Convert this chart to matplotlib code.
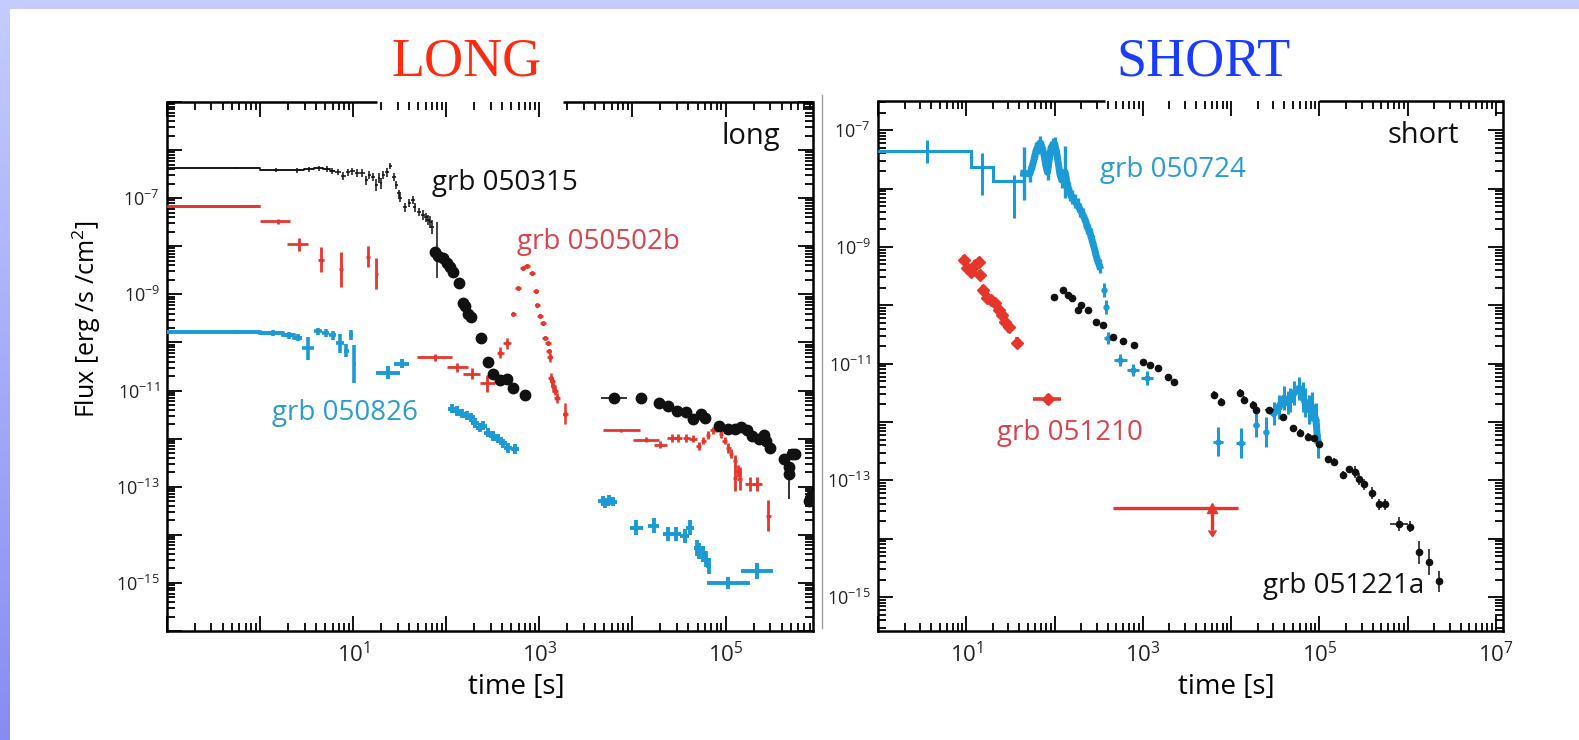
import numpy as np
import matplotlib
matplotlib.use('Agg')
import matplotlib.pyplot as plt
from matplotlib.ticker import LogLocator, FuncFormatter, NullFormatter
from matplotlib.lines import Line2D

plt.rcParams['font.family'] = ['Open Sans', 'DejaVu Sans']
plt.rcParams['mathtext.fontset'] = 'custom'
plt.rcParams['mathtext.rm'] = 'Open Sans'
plt.rcParams['mathtext.it'] = 'Open Sans:italic'
plt.rcParams['mathtext.bf'] = 'Open Sans:bold'

BLACK = '#111111'
RED = '#e8352b'
BLUE = '#1b9ad6'
RED_TXT = '#d9434b'
BLUE_TXT = '#2b9cce'

# all light-curve values are log10(time [s]) and log10(flux [erg/s/cm^2])
# error sizes are in dex

# ---- long bursts ----
# GRB 050315, BAT bins (edges) and XRT
b315_edges = [-1.0, 0.0, 0.30, 0.47, 0.58, 0.68, 0.75, 0.80, 0.865, 0.92, 0.965, 1.015,
              1.07, 1.125, 1.16, 1.19, 1.23, 1.265, 1.29, 1.31, 1.34, 1.38, 1.42]
b315_lf = [-6.38, -6.42, -6.42, -6.40, -6.38, -6.40, -6.44, -6.46, -6.54, -6.46, -6.44,
           -6.48, -6.48, -6.63, -6.52, -6.56, -6.73, -6.58, -6.69, -6.52, -6.46, -6.33]
b315_ey = [0.02, 0.04, 0.05, 0.05, 0.05, 0.06, 0.06, 0.06, 0.08, 0.07, 0.07, 0.08, 0.08,
           0.10, 0.08, 0.09, 0.12, 0.10, 0.12, 0.09, 0.09, 0.06]
d315_lt = [1.44, 1.465, 1.49, 1.50, 1.56, 1.605, 1.64, 1.66, 1.71, 1.75, 1.78, 1.80, 1.83,
           1.85, 1.90]
d315_lf = [-6.56, -6.73, -6.90, -7.00, -7.19, -7.10, -7.04, -7.19, -7.29, -7.35, -7.40,
           -7.46, -7.50, -7.60, -8.08]
d315_ey = [0.08, 0.08, 0.08, 0.08, 0.09, 0.08, 0.08, 0.09, 0.09, 0.10, 0.10, 0.10, 0.12,
           0.14, 0.58]
x315_lt = [1.875, 1.91, 1.96, 2.005, 2.04, 2.07, 2.135, 2.18, 2.20, 2.23, 2.265, 2.37, 2.45,
           2.50, 2.58, 2.65, 2.72, 2.85, 3.80, 4.09, 4.28, 4.38, 4.48, 4.57, 4.65, 4.74,
           4.78, 4.935, 5.03, 5.10, 5.17, 5.23, 5.28, 5.36, 5.41, 5.44, 5.48, 5.63, 5.68,
           5.71, 5.75, 5.68, 5.90, 5.92]
x315_lf = [-8.125, -8.21, -8.25, -8.35, -8.44, -8.54, -8.77, -9.17, -9.25, -9.40, -9.48,
           -9.90, -10.40, -10.65, -10.79, -10.77, -10.94, -11.10, -11.15, -11.15, -11.25,
           -11.33, -11.42, -11.44, -11.60, -11.48, -11.58, -11.73, -11.79, -11.79, -11.75,
           -11.83, -11.94, -12.00, -11.92, -12.04, -12.19, -12.42, -12.58, -12.31, -12.31,
           -12.73, -13.29, -13.19]
x315_ex = [0.02] * 18 + [0.14] + [0.02] * 25
x315_ey = [0.05] * 36 + [0.1, 0.1, 0.1, 0.1, 0.1, 0.52, 0.12, 0.12]

# GRB 050502b
b502_lo = [-1.0, 0.0, 0.29, 0.62, 0.85, 1.14, 1.23]
b502_hi = [0.0, 0.32, 0.52, 0.69, 0.89, 1.18, 1.27]
b502_lf = [-7.17, -7.48, -7.96, -8.28, -8.48, -8.22, -8.57]
b502_ey = [0.02, 0.05, 0.14, 0.26, 0.36, 0.22, 0.32]
e502_lt = [1.875, 2.12, 2.275, 2.44]
e502_lf = [-10.31, -10.52, -10.65, -10.85]
e502_ex = [0.19, 0.115, 0.09, 0.08]
e502_ey = [0.07, 0.10, 0.12, 0.17]
f502_lt = [2.58, 2.65, 2.72, 2.77, 2.82, 2.87, 2.92, 2.96, 2.98, 3.01, 3.04, 3.06, 3.09,
           3.10, 3.11, 3.12, 3.14, 3.15, 3.17, 3.19, 3.28]
f502_lf = [-10.21, -10.02, -9.40, -8.875, -8.46, -8.40, -8.56, -8.94, -9.23, -9.44, -9.60,
           -9.90, -10.02, -10.17, -10.31, -10.73, -10.81, -10.90, -11.00, -11.15, -11.48]
f502_ex = [0.04, 0.04] + [0.03] * 19
f502_ey = [0.12, 0.12] + [0.03] * 12 + [0.10] * 6 + [0.22]
l502_lt = [3.88, 4.15, 4.30, 4.42, 4.49, 4.58, 4.65, 4.71, 4.76, 4.81, 4.86, 4.90, 4.95,
           4.99, 5.03, 5.06, 5.10, 5.13, 5.10, 5.15, 5.26, 5.34, 5.46]
l502_lf = [-11.83, -12.02, -12.125, -11.98, -11.98, -11.98, -12.0, -12.15, -12.04, -11.92,
           -11.83, -11.79, -11.90, -12.04, -12.19, -12.31, -12.46, -12.67, -12.81, -12.83,
           -12.94, -12.94, -13.60]
l502_ex = [0.20, 0.14, 0.07, 0.05, 0.04, 0.04, 0.04] + [0.025] * 13 + [0.05, 0.05, 0.03]
l502_ey = [0.04, 0.06, 0.07] + [0.08] * 11 + [0.10, 0.10, 0.12, 0.12, 0.27, 0.23, 0.14,
                                              0.14, 0.32]

# GRB 050826
b826_edges = [-1.0, 0.0, 0.25, 0.36, 0.45, 0.58, 0.665, 0.745, 0.82, 0.90, 0.95, 0.995, 1.03]
b826_lf = [-9.79, -9.81, -9.85, -9.90, -10.125, -9.77, -9.81, -9.85, -10.02, -10.17, -9.85,
           -10.45]
b826_ey = [0.04, 0.06, 0.07, 0.07, 0.23, 0.08, 0.08, 0.09, 0.20, 0.14, 0.10, 0.40]
x826_lt = [1.37, 1.52, 2.06, 2.11, 2.17, 2.22, 2.265, 2.31, 2.36, 2.39, 2.45, 2.50, 2.56,
           2.61, 2.665, 2.74]
x826_lf = [-10.625, -10.44, -11.375, -11.42, -11.48, -11.52, -11.56, -11.67, -11.77,
           -11.73, -11.875, -11.94, -12.0, -12.10, -12.19, -12.21]
x826_ex = [0.13, 0.08] + [0.045] * 14
x826_ey = [0.14, 0.10] + [0.10] * 14
l826_lt = [3.68, 3.71, 3.745, 3.79, 4.04, 4.23, 4.38, 4.47, 4.56, 4.62, 4.69, 4.72, 4.76,
           4.79, 4.82, 5.03, 5.34]
l826_lf = [-13.29, -13.35, -13.27, -13.31, -13.85, -13.81, -13.98, -13.98, -14.02, -13.85,
           -14.27, -14.33, -14.40, -14.50, -14.65, -15.0, -14.75]
l826_ex = [0.045] * 4 + [0.07, 0.06, 0.05, 0.05, 0.05, 0.04] + [0.025] * 5 + [0.23, 0.17]
l826_ey = [0.10] * 4 + [0.15] * 6 + [0.17] * 5 + [0.12, 0.17]

# ---- short bursts ----
# GRB 050724
b724_lt = [0.55, 1.18, 1.54]
b724_lf = [-7.36, -7.63, -7.87]
b724_ex = [[0.55, 0.13, 0.24], [0.50, 0.13, 0.10]]
b724_ey = [[0.20, 0.48, 0.64], [0.19, 0.24, 0.10]]
c724_lt = [1.65, 1.72, 1.76, 1.79, 1.81, 1.84, 1.86, 1.88, 1.90, 1.92, 1.94, 1.96, 1.98,
           2.00, 2.02, 2.04, 2.06, 2.08, 2.10, 2.12, 2.14, 2.16, 2.18, 2.20, 2.23, 2.26,
           2.29, 2.32, 2.35, 2.37, 2.39, 2.41, 2.43, 2.45, 2.47, 2.49, 2.51]
c724_lf = [-7.74, -7.75, -7.55, -7.35, -7.28, -7.22, -7.30, -7.42, -7.60, -7.72, -7.50,
           -7.30, -7.25, -7.24, -7.35, -7.55, -7.75, -7.85, -7.80, -7.72, -7.90, -8.02,
           -8.10, -8.15, -8.22, -8.28, -8.36, -8.45, -8.55, -8.66, -8.72, -8.80, -8.92,
           -9.02, -9.15, -9.25, -9.33]
c724_ey = [0.45, 0.14, 0.14, 0.14, 0.12, 0.12, 0.12, 0.14, 0.14, 0.14, 0.14, 0.12, 0.12,
           0.12, 0.14, 0.14, 0.14, 0.14, 0.14, 0.45, 0.14, 0.14, 0.12, 0.12, 0.12, 0.12,
           0.12, 0.12, 0.12, 0.12, 0.12, 0.12, 0.12, 0.12, 0.12, 0.12, 0.12]
p724_lt = [2.56, 2.58, 2.61, 2.745, 2.89, 3.05]
p724_lf = [-9.74, -10.03, -10.56, -10.94, -11.11, -11.25]
p724_ex = [0.01, 0.01, 0.05, 0.07, 0.07, 0.07]
p724_ey = [0.12, 0.12, 0.10, 0.10, 0.10, 0.12]
l724_lt = [3.85, 4.11, 4.28, 4.39, 4.48, 4.54, 4.60, 4.64, 4.67, 4.71, 4.77, 4.81, 4.84,
           4.88, 4.92, 4.96, 4.98]
l724_lf = [-12.34, -12.36, -12.05, -12.17, -11.85, -11.74, -11.59, -11.67, -11.62, -11.50,
           -11.42, -11.57, -11.67, -11.79, -11.74, -11.97, -12.31]
l724_ex = [0.06, 0.05, 0.03, 0.03] + [0.015] * 13
l724_ey = [0.25, 0.25, 0.20, 0.25] + [0.20] * 7 + [0.25] * 4 + [0.30, 0.30]

# GRB 051210
r210_lt = [0.97, 1.01, 1.05, 1.10, 1.14, 1.16, 1.19, 1.24, 1.28, 1.33, 1.375, 1.41, 1.44,
           1.48, 1.58, 1.93]
r210_lf = [-9.22, -9.36, -9.43, -9.31, -9.26, -9.48, -9.74, -9.87, -9.91, -9.96, -10.08,
           -10.16, -10.28, -10.38, -10.64, -11.61]
r210_ex = [[0.04] * 15 + [0.17], [0.04] * 15 + [0.14]]
r210_ey = [0.09] * 16
u210_lt = [3.78]
u210_lf = [-13.47]
u210_ex = [[1.12], [0.30]]

# GRB 051221a
k221_lt = [1.99, 2.09, 2.15, 2.20, 2.26, 2.30, 2.375, 2.47, 2.55, 2.66, 2.78, 2.90, 3.00,
           3.08, 3.17, 3.28, 3.35, 3.81, 3.89, 4.10, 4.14, 4.25, 4.28, 4.43, 4.59, 4.70,
           4.78, 4.875, 4.94, 4.99, 5.10, 5.17, 5.27, 5.33, 5.40, 5.45, 5.51, 5.59, 5.67,
           5.74, 5.90, 6.03, 6.125, 6.24, 6.35]
k221_lf = [-9.85, -9.74, -9.82, -9.87, -10.08, -9.99, -10.08, -10.28, -10.33, -10.54,
           -10.62, -10.68, -10.98, -11.03, -11.07, -11.22, -11.32, -11.53, -11.65, -11.50,
           -11.62, -11.70, -11.79, -11.80, -11.92, -12.11, -12.18, -12.25, -12.28, -12.38,
           -12.64, -12.68, -12.90, -12.81, -12.86, -12.98, -13.07, -13.21, -13.41, -13.41,
           -13.74, -13.79, -14.23, -14.40, -14.73]
k221_ex = [0.02] * 23 + [0.05] + [0.02] * 16 + [0.10, 0.04, 0.02, 0.02, 0.02]
k221_ey = [0.04] * 17 + [0.06] * 17 + [0.10] * 6 + [0.12, 0.10, 0.20, 0.22, 0.18]


def points(ax, lt, lf, ex, ey, color, marker='none', ms=0, lw=1.5, z=3, **kw):
    lt = np.asarray(lt, float)
    lf = np.asarray(lf, float)
    ex = np.broadcast_to(np.asarray(ex, float), (2, lt.size))
    ey = np.broadcast_to(np.asarray(ey, float), (2, lt.size))
    t, f = 10 ** lt, 10 ** lf
    xerr = [t - 10 ** (lt - ex[0]), 10 ** (lt + ex[1]) - t]
    yerr = [f - 10 ** (lf - ey[0]), 10 ** (lf + ey[1]) - f]
    ax.errorbar(t, f, xerr=xerr, yerr=yerr, fmt=marker, ms=ms, color=color, mec=color,
                mfc=color, ecolor=color, elinewidth=lw, capsize=0, linestyle='none',
                zorder=z, **kw)


def binned(ax, lo, hi, lf, ey, color, lw=1.5, nstairs=0):
    lo, hi = 10 ** np.asarray(lo, float), 10 ** np.asarray(hi, float)
    t = 0.5 * (lo + hi)
    f = 10 ** np.asarray(lf, float)
    ey = np.asarray(ey, float)
    ax.errorbar(t, f, xerr=[t - lo, hi - t], yerr=[f - f * 10 ** -ey, f * 10 ** ey - f],
                fmt='none', ecolor=color, elinewidth=lw, capsize=0, zorder=3)
    if nstairs:
        ax.stairs(f[:nstairs], np.r_[lo[:nstairs], hi[nstairs - 1]], color=color,
                  lw=lw, baseline=None, zorder=3)


def decade_label(keep):
    def fmt(v, pos):
        e = int(round(np.log10(v)))
        return r'$\mathregular{10^{%d}}$' % e if e in keep else ''
    return FuncFormatter(fmt)


def style_axes(ax, xlim, ylim, xkeep, gaps):
    ax.set_xscale('log')
    ax.set_yscale('log')
    ax.set_xlim(*xlim)
    ax.set_ylim(*ylim)
    for a in (ax.xaxis, ax.yaxis):
        a.set_major_locator(LogLocator(base=10, numticks=40))
        a.set_minor_locator(LogLocator(base=10, subs=np.arange(2, 10), numticks=40))
        a.set_minor_formatter(NullFormatter())
    ax.xaxis.set_major_formatter(decade_label(xkeep))
    ax.yaxis.set_major_formatter(decade_label([-7, -9, -11, -13, -15]))
    ax.tick_params(which='both', direction='in', top=True, right=True, width=1.3,
                   color='black')
    ax.tick_params(which='major', length=11)
    ax.tick_params(which='minor', length=6)
    ax.tick_params(axis='x', which='major', labelsize=16, pad=8, labelcolor='#222222')
    ax.tick_params(axis='y', which='major', labelsize=13, pad=5, labelcolor='#222222')
    for s in ('left', 'right', 'bottom'):
        ax.spines[s].set_linewidth(1.8)
    ax.spines['top'].set_visible(False)
    for a, b in gaps:
        ax.plot([a, b], [1, 1], transform=ax.transAxes, color='black', lw=1.8,
                clip_on=False, solid_capstyle='butt', zorder=5)


fig = plt.figure(figsize=(15.79, 7.40), dpi=100)

# slide border
fig.add_artist(plt.Rectangle((0, 1 - 9 / 740), 1, 9 / 740, transform=fig.transFigure,
                             color='#c3cbff', lw=0, zorder=0))
band = fig.add_axes([0, 0, 10 / 1579, 1])
grad = np.linspace(0, 1, 256)[:, None, None]
top_c = np.array([0.77, 0.80, 1.0])
bot_c = np.array([0.53, 0.55, 0.95])
band.imshow(top_c * (1 - grad) + bot_c * grad, aspect='auto')
band.axis('off')
fig.add_artist(Line2D([822 / 1579] * 2, [1 - 628 / 740, 1 - 95 / 740], color='#a0a0a0',
                      lw=1.0))

fig.text(467 / 1579, 1 - 62 / 740, 'LONG', color='#ff2a10', family='Liberation Serif',
         fontsize=39, ha='center', va='center')
fig.text(1203 / 1579, 1 - 62 / 740, 'SHORT', color='#1a3cff', family='Liberation Serif',
         fontsize=39, ha='center', va='center')

# ---- left panel: long bursts ----
axl = fig.add_axes([167 / 1579, 109 / 740, 646 / 1579, 529 / 740])
style_axes(axl, (0.1, 8.7e5), (1e-16, 1e-5), [1, 3, 5], [(0, 0.325), (0.613, 1)])

binned(axl, b315_edges[:-1], b315_edges[1:], b315_lf, b315_ey, BLACK, lw=1.1, nstairs=7)
points(axl, d315_lt, d315_lf, 0.02, d315_ey, BLACK, lw=1.1)
points(axl, x315_lt, x315_lf, x315_ex, x315_ey, BLACK, marker='o', ms=7.5, lw=1.2)

binned(axl, b502_lo, b502_hi, b502_lf, b502_ey, RED, lw=2.0, nstairs=1)
points(axl, e502_lt, e502_lf, e502_ex, e502_ey, RED, lw=2.0)
points(axl, f502_lt, f502_lf, f502_ex, f502_ey, RED, marker='o', ms=2.5, lw=1.8)
points(axl, l502_lt, l502_lf, l502_ex, l502_ey, RED, lw=2.0)

binned(axl, b826_edges[:-1], b826_edges[1:], b826_lf, b826_ey, BLUE, lw=2.6, nstairs=4)
points(axl, x826_lt, x826_lf, x826_ex, x826_ey, BLUE, lw=2.8)
points(axl, l826_lt, l826_lf, l826_ex, l826_ey, BLUE, lw=2.8)

axl.text(10 ** 1.85, 10 ** -6.69, 'grb 050315', color=BLACK, fontsize=20, va='center')
axl.text(10 ** 2.76, 10 ** -7.91, 'grb 050502b', color=RED_TXT, fontsize=20, va='center')
axl.text(10 ** 0.13, 10 ** -11.47, 'grb 050826', color=BLUE_TXT, fontsize=20, va='center')
axl.text(0.949, 0.934, 'long', transform=axl.transAxes, color=BLACK, fontsize=21,
         ha='right', va='center')
axl.set_xlabel('time [s]', fontsize=20)
axl.xaxis.set_label_coords(0.54, -0.08)
axl.set_ylabel('Flux [erg /s /cm$^2$]', fontsize=18)
axl.yaxis.set_label_coords(-0.099, 0.59)

# ---- right panel: short bursts ----
axr = fig.add_axes([878 / 1579, 109 / 740, 625 / 1579, 530 / 740])
style_axes(axr, (1.0, 1.2e7), (10 ** -15.58, 10 ** -6.5), [1, 3, 5, 7],
           [(0, 0.363), (0.706, 1)])

b724_e = np.asarray(b724_ex)
b724_edges = np.r_[np.asarray(b724_lt) - b724_e[0], b724_lt[-1] + b724_e[1][-1]]
axr.stairs(10 ** np.asarray(b724_lf), 10 ** b724_edges, color=BLUE, lw=2.2,
           baseline=None, zorder=3)
points(axr, b724_lt, b724_lf, b724_ex, b724_ey, BLUE, lw=2.2)
axr.plot(10 ** np.asarray(c724_lt), 10 ** np.asarray(c724_lf), color=BLUE, lw=5, zorder=3)
points(axr, c724_lt, c724_lf, 0.015, c724_ey, BLUE, lw=2.4)
points(axr, p724_lt, p724_lf, p724_ex, p724_ey, BLUE, marker='o', ms=3.5, lw=2.2)
axr.plot(10 ** np.asarray(l724_lt[4:]), 10 ** np.asarray(l724_lf[4:]), color=BLUE, lw=5,
         zorder=3)
points(axr, l724_lt, l724_lf, l724_ex, l724_ey, BLUE, marker='o', ms=3.5, lw=2.2)

points(axr, r210_lt, r210_lf, r210_ex, r210_ey, RED, marker='D', ms=6.5, lw=2.6)
points(axr, u210_lt, u210_lf, u210_ex, [[0.38], [0.0]], RED, marker='^', ms=7, lw=2.4,
       uplims=True)

points(axr, k221_lt, k221_lf, k221_ex, k221_ey, BLACK, marker='o', ms=4.5, lw=1.1)

axr.text(10 ** 2.52, 10 ** -7.68, 'grb 050724', color=BLUE_TXT, fontsize=20, va='center')
axr.text(10 ** 1.35, 10 ** -12.18, 'grb 051210', color=RED_TXT, fontsize=20, va='center')
axr.text(10 ** 4.36, 10 ** -14.81, 'grb 051221a', color=BLACK, fontsize=20, va='center')
axr.text(0.93, 0.934, 'short', transform=axr.transAxes, color=BLACK, fontsize=21,
         ha='right', va='center')
axr.set_xlabel('time [s]', fontsize=20)
axr.xaxis.set_label_coords(0.557, -0.08)

fig.savefig('out.png', dpi=100, facecolor='white')
